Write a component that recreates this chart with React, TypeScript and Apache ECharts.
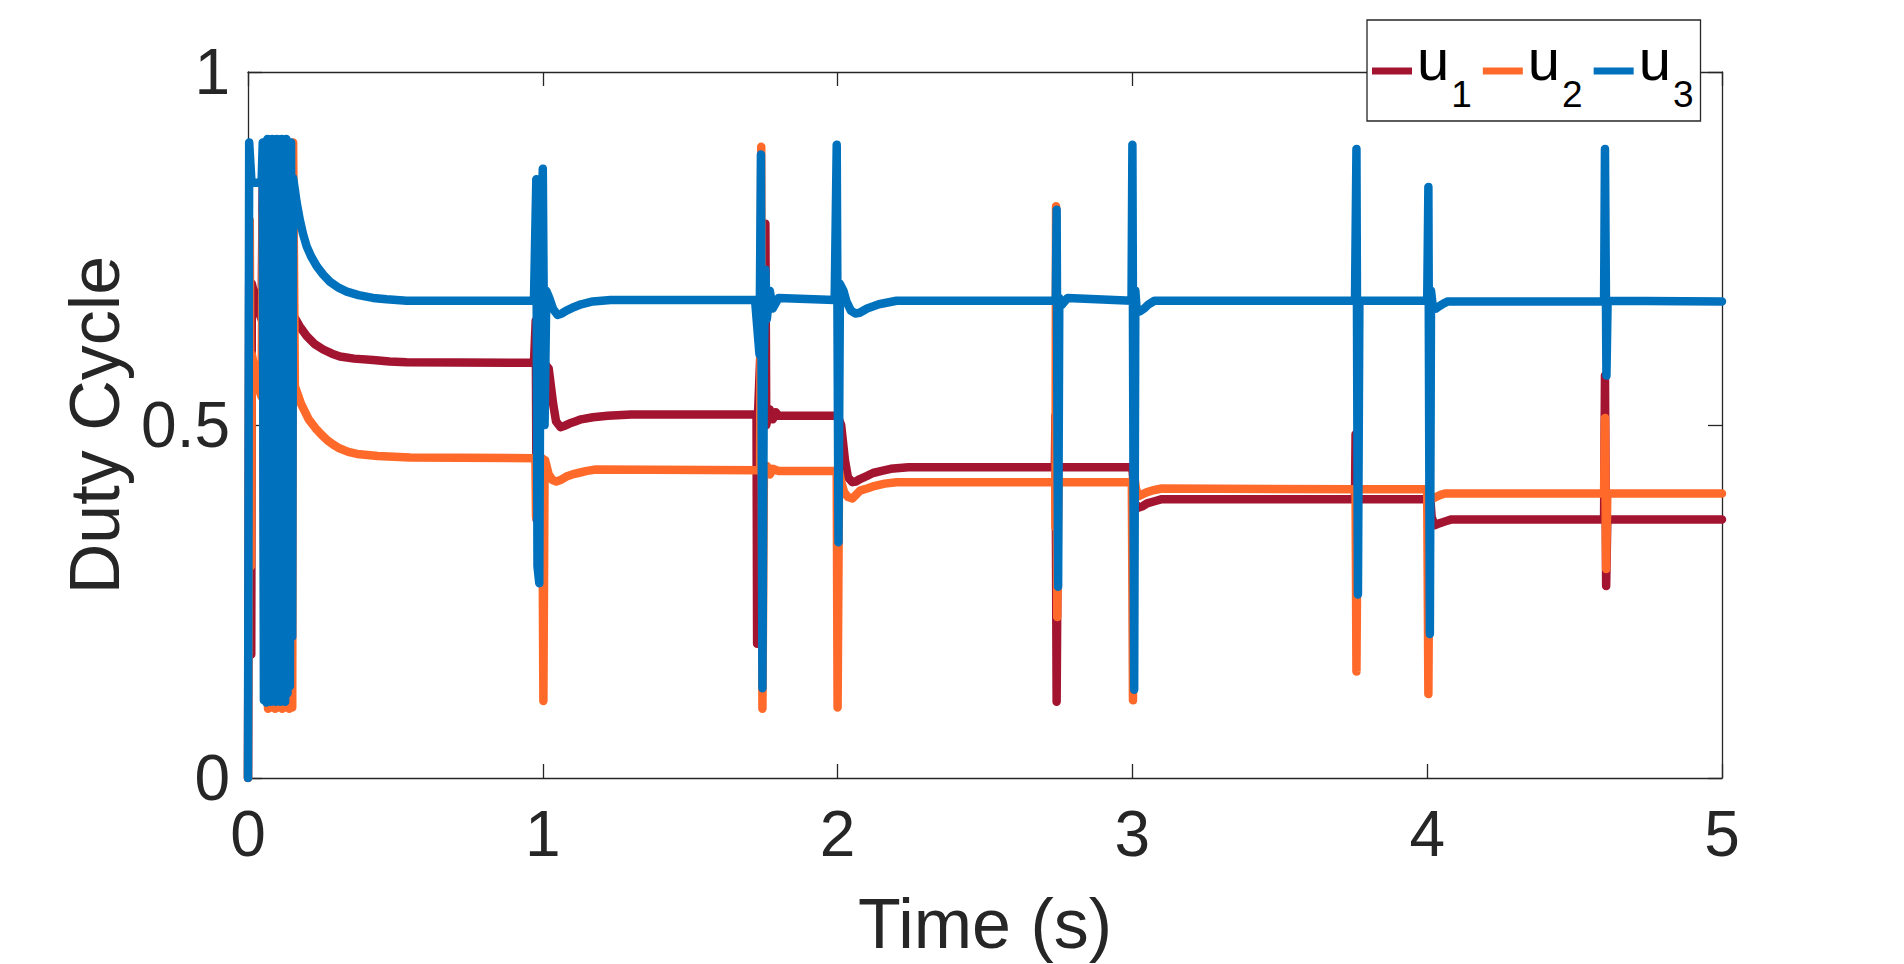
import { useEffect, useRef } from "react";
import * as echarts from "echarts";

const seriesNames = ["u1", "u2", "u3"];
const seriesColors = ["#A2142F", "#FF6A2B", "#0072BD"];
const xTicks = [0, 1, 2, 3, 4, 5];
const yTicks = [0, 0.5, 1];
const xLabel = "Time (s)";
const yLabel = "Duty Cycle";

// u1 (dark red)
const u1: [number, number][] = [
  [0, 0], [0.004, 0.7], [0.009, 0.7], [0.011, 0.175], [0.013, 0.7], [0.034, 0.663], [0.046, 0.65],
  [0.05, 0.85], [0.056, 0.2], [0.062, 0.82], [0.068, 0.22], [0.074, 0.84], [0.08, 0.2], [0.086, 0.83],
  [0.092, 0.22], [0.098, 0.84], [0.104, 0.2], [0.11, 0.83], [0.116, 0.22], [0.122, 0.84], [0.128, 0.25],
  [0.134, 0.8], [0.14, 0.3], [0.146, 0.75], [0.153, 0.656],
  [0.175, 0.64], [0.199, 0.626], [0.225, 0.615], [0.255, 0.607], [0.285, 0.601], [0.312, 0.597],
  [0.36, 0.594], [0.424, 0.592], [0.48, 0.59], [0.538, 0.589], [0.97, 0.588],
  [0.976, 0.648], [0.979, 0.366], [0.985, 0.588], [1.0, 0.59], [1.02, 0.58], [1.035, 0.53], [1.045, 0.505],
  [1.06, 0.497], [1.075, 0.499], [1.09, 0.502], [1.11, 0.505], [1.13, 0.508], [1.17, 0.511], [1.22, 0.513],
  [1.3, 0.515], [1.725, 0.515],
  [1.727, 0.19], [1.73, 0.515], [1.755, 0.785], [1.758, 0.5], [1.77, 0.522], [1.78, 0.508], [1.79, 0.518],
  [1.8, 0.513], [2.0, 0.513], [2.012, 0.5], [2.025, 0.45], [2.035, 0.426], [2.05, 0.419], [2.062, 0.42],
  [2.076, 0.4235], [2.1, 0.428], [2.12, 0.432], [2.15, 0.435], [2.18, 0.438], [2.24, 0.44], [2.737, 0.44],
  [2.739, 0.513], [2.743, 0.108], [2.748, 0.44], [3.0, 0.44], [3.008, 0.39], [3.02, 0.383], [3.035, 0.385],
  [3.05, 0.389], [3.075, 0.392], [3.1, 0.395], [3.755, 0.395], [3.757, 0.487], [3.76, 0.39], [3.765, 0.395],
  [4.0, 0.395], [4.004, 0.37], [4.01, 0.4], [4.015, 0.37], [4.025, 0.358], [4.037, 0.36], [4.05, 0.362],
  [4.065, 0.364], [4.08, 0.366], [4.6, 0.366],
  [4.603, 0.57], [4.607, 0.272], [4.611, 0.366], [5, 0.366],
];

// u2 (orange)
const u2: [number, number][] = [
  [0, 0], [0.006, 0.79], [0.01, 0.3], [0.013, 0.6], [0.034, 0.555], [0.046, 0.54],
  [0.05, 0.8], [0.056, 0.12], [0.062, 0.85], [0.068, 0.098], [0.074, 0.86], [0.08, 0.1], [0.086, 0.85],
  [0.092, 0.098], [0.098, 0.86], [0.104, 0.1], [0.11, 0.85], [0.116, 0.098], [0.122, 0.86], [0.128, 0.1],
  [0.134, 0.87], [0.14, 0.098], [0.146, 0.88], [0.15, 0.1], [0.153, 0.9],
  [0.159, 0.555], [0.18, 0.53], [0.206, 0.508], [0.23, 0.495], [0.25, 0.486], [0.27, 0.478],
  [0.29, 0.472], [0.31, 0.467], [0.34, 0.462], [0.37, 0.459], [0.44, 0.456], [0.55, 0.454], [0.975, 0.453],
  [0.977, 0.37], [0.982, 0.453], [0.998, 0.453], [1.002, 0.109], [1.006, 0.44], [1.008, 0.45],
  [1.02, 0.43], [1.033, 0.422], [1.046, 0.42], [1.06, 0.422], [1.08, 0.427], [1.1, 0.43], [1.12, 0.432],
  [1.15, 0.435], [1.18, 0.437], [1.737, 0.436],
  [1.741, 0.894], [1.745, 0.098], [1.75, 0.436], [1.76, 0.442], [1.77, 0.43], [1.78, 0.438], [1.8, 0.435],
  [1.997, 0.435], [2.0, 0.1], [2.005, 0.435], [2.012, 0.42], [2.022, 0.405], [2.035, 0.398], [2.05, 0.396],
  [2.062, 0.401], [2.076, 0.407], [2.1, 0.41], [2.12, 0.413], [2.16, 0.417], [2.2, 0.419], [2.738, 0.419],
  [2.739, 0.355], [2.741, 0.81], [2.745, 0.228], [2.749, 0.419], [2.998, 0.419],
  [2.999, 0.343], [3.002, 0.11], [3.006, 0.43], [3.012, 0.41], [3.02, 0.399], [3.035, 0.402], [3.05, 0.405],
  [3.075, 0.408], [3.1, 0.41], [3.757, 0.409], [3.76, 0.151], [3.764, 0.409], [4.0, 0.409],
  [4.004, 0.119], [4.008, 0.409], [4.012, 0.396], [4.02, 0.396], [4.03, 0.398], [4.045, 0.401], [4.06, 0.403],
  [4.6, 0.403],
  [4.603, 0.51], [4.607, 0.296], [4.611, 0.403], [5, 0.403],
];

// u3 (blue)
const u3: [number, number][] = [
  [0, 0], [0.004, 0.9], [0.012, 0.843], [0.046, 0.843],
  [0.05, 0.9], [0.054, 0.11], [0.058, 0.9], [0.062, 0.107], [0.066, 0.905], [0.07, 0.11], [0.074, 0.9],
  [0.078, 0.108], [0.082, 0.905], [0.086, 0.11], [0.09, 0.9], [0.094, 0.108], [0.098, 0.905], [0.102, 0.11],
  [0.106, 0.9], [0.11, 0.108], [0.114, 0.905], [0.118, 0.11], [0.122, 0.9], [0.126, 0.108], [0.13, 0.905],
  [0.134, 0.12], [0.138, 0.9], [0.142, 0.13], [0.146, 0.9], [0.15, 0.2], [0.153, 0.85],
  [0.159, 0.833], [0.165, 0.815], [0.176, 0.79], [0.187, 0.77], [0.199, 0.753], [0.215, 0.738],
  [0.233, 0.725], [0.255, 0.713], [0.278, 0.703], [0.305, 0.695], [0.335, 0.689], [0.375, 0.684],
  [0.424, 0.68], [0.47, 0.678], [0.538, 0.676], [0.97, 0.676],
  [0.978, 0.848], [0.982, 0.3], [0.988, 0.276], [0.993, 0.75], [1.0, 0.863], [1.006, 0.5], [1.012, 0.69],
  [1.022, 0.68], [1.035, 0.664], [1.05, 0.656], [1.065, 0.658], [1.08, 0.662], [1.1, 0.666], [1.13, 0.671],
  [1.17, 0.675], [1.23, 0.677], [1.72, 0.677],
  [1.735, 0.6], [1.74, 0.883], [1.745, 0.127], [1.75, 0.6], [1.755, 0.72], [1.76, 0.65], [1.77, 0.69],
  [1.78, 0.665], [1.8, 0.68], [1.99, 0.677],
  [1.997, 0.897], [2.003, 0.334], [2.008, 0.7], [2.02, 0.69], [2.03, 0.675], [2.045, 0.662], [2.06, 0.658],
  [2.075, 0.659], [2.1, 0.665], [2.14, 0.671], [2.2, 0.676], [2.74, 0.676],
  [2.743, 0.805], [2.748, 0.271], [2.752, 0.68], [2.76, 0.67], [2.78, 0.68], [2.997, 0.676],
  [3.0, 0.897], [3.006, 0.125], [3.01, 0.69], [3.015, 0.66], [3.025, 0.661], [3.04, 0.665], [3.055, 0.671],
  [3.075, 0.676], [3.755, 0.676], [3.76, 0.891], [3.765, 0.26], [3.77, 0.676], [4.0, 0.676],
  [4.004, 0.837], [4.009, 0.204], [4.013, 0.69], [4.02, 0.664], [4.03, 0.665], [4.04, 0.668], [4.055, 0.672],
  [4.07, 0.675], [4.6, 0.675],
  [4.603, 0.891], [4.608, 0.57], [4.612, 0.676], [5, 0.675],
];

const seriesData = [u1, u2, u3];
const FONT = "'Liberation Sans', Arial, Helvetica, sans-serif";
const AXIS_COLOR = "#262626";

export default function App() {
  const ref = useRef<HTMLDivElement>(null);

  useEffect(() => {
    document.body.style.margin = "0";
    const chart = echarts.init(ref.current!, null, { renderer: "svg" });
    const axisLine = { show: true, onZero: false, lineStyle: { color: AXIS_COLOR, width: 1.3 } };
    const axisTick = { show: true, inside: true, length: 14, lineStyle: { color: AXIS_COLOR, width: 1.3 } };
    chart.setOption({
      animation: false,
      backgroundColor: "#ffffff",
      textStyle: { fontFamily: FONT },
      grid: { left: 248, right: 182, top: 72, bottom: 185, containLabel: false },
      legend: {
        data: seriesNames,
        left: 1367,
        top: 20,
        orient: "horizontal",
        padding: [9, 7, 8, 5],
        itemGap: 11,
        itemWidth: 40,
        itemHeight: 7,
        icon: "rect",
        borderColor: AXIS_COLOR,
        borderWidth: 1.3,
        borderRadius: 0,
        backgroundColor: "#ffffff",
        selectedMode: false,
        formatter: (n: string) => `{u|u}{s|${n.slice(1)}}`,
        textStyle: {
          color: "#000",
          fontFamily: FONT,
          rich: {
            u: { fontSize: 58, lineHeight: 58, padding: [0, 0, 23, 0], color: "#000", fontFamily: FONT },
            s: { fontSize: 37, lineHeight: 37, padding: [47, 0, 0, 2], color: "#000", fontFamily: FONT },
          },
        },
      },
      xAxis: [
        {
          type: "value",
          position: "bottom",
          min: xTicks[0],
          max: xTicks[xTicks.length - 1],
          interval: 1,
          axisLine,
          axisTick,
          splitLine: { show: false },
          axisLabel: { fontSize: 64, color: AXIS_COLOR, margin: 24, fontFamily: FONT },
          name: xLabel,
          nameLocation: "middle",
          nameGap: 111,
          nameTextStyle: { fontSize: 70, color: AXIS_COLOR, fontFamily: FONT },
        },
        {
          type: "value",
          position: "top",
          min: xTicks[0],
          max: xTicks[xTicks.length - 1],
          interval: 1,
          axisLine,
          axisTick,
          splitLine: { show: false },
          axisLabel: { show: false },
        },
      ],
      yAxis: [
        {
          type: "value",
          position: "left",
          min: yTicks[0],
          max: yTicks[yTicks.length - 1],
          interval: 0.5,
          axisLine,
          axisTick,
          splitLine: { show: false },
          axisLabel: { fontSize: 64, color: AXIS_COLOR, margin: 18, fontFamily: FONT },
          name: yLabel,
          nameLocation: "middle",
          nameRotate: 90,
          nameGap: 112,
          nameTextStyle: { fontSize: 70, color: AXIS_COLOR, fontFamily: FONT },
        },
        {
          type: "value",
          position: "right",
          min: yTicks[0],
          max: yTicks[yTicks.length - 1],
          interval: 0.5,
          axisLine,
          axisTick,
          splitLine: { show: false },
          axisLabel: { show: false },
        },
      ],
      series: seriesNames.map((name, i) => ({
        name,
        type: "line",
        xAxisIndex: 0,
        yAxisIndex: 0,
        data: seriesData[i],
        showSymbol: false,
        symbol: "none",
        color: seriesColors[i],
        lineStyle: { width: 8.5, color: seriesColors[i], cap: "round", join: "round" },
        emphasis: { disabled: true },
        z: 2 + i,
      })),
    });
    return () => chart.dispose();
  }, []);

  return (
    <div
      ref={ref}
      style={{ position: "fixed", left: 0, top: 0, width: 1904, height: 964, background: "#fff" }}
    />
  );
}
